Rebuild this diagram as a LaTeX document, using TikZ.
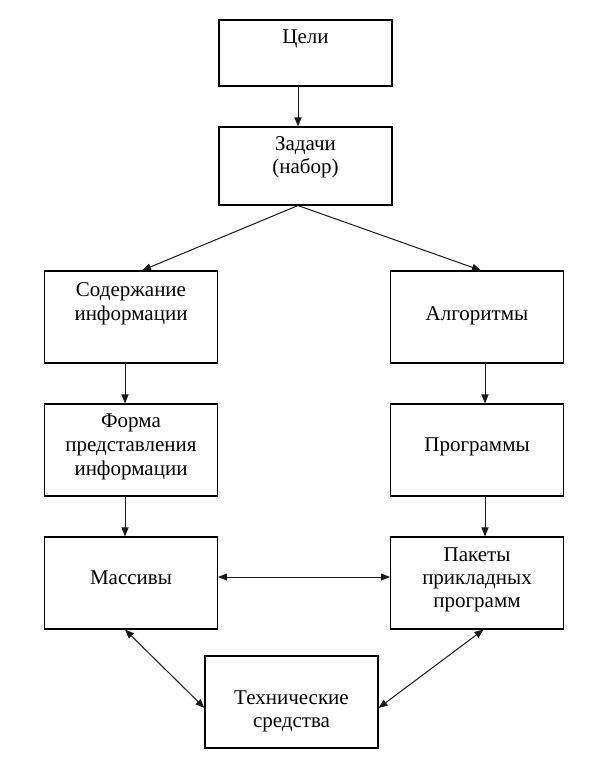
\documentclass[tikz,border=0pt]{standalone}
\usepackage{fontspec}
\setmainfont{Liberation Serif}
\usetikzlibrary{arrows.meta}
\begin{document}
\begin{tikzpicture}[x=1pt,y=-1pt,
  box/.style={draw=black,line width=1.1pt,minimum width=173pt,minimum height=92pt,inner sep=0pt,fill=white},
  lbl/.style={font=\fontsize{21}{24}\selectfont,inner sep=0pt,anchor=base},
  arr/.style={line width=1pt,draw=black!90,-{Triangle[length=9pt,width=7pt]}},
  barr/.style={line width=1pt,draw=black!90,{Triangle[length=9pt,width=7pt]}-{Triangle[length=9pt,width=7pt]}}]
\useasboundingbox (0,0) rectangle (594,762);
\fill[white] (0,0) rectangle (594,762);
% boxes
\node[box,minimum height=66pt] (c) at (305.5,53) {};
\node[box,minimum height=78pt] (z) at (305.5,166) {};
\node[box] (s) at (131,317) {};
\node[box] (a) at (477,317) {};
\node[box] (f) at (131,450) {};
\node[box] (p) at (477,450) {};
\node[box] (m) at (131,583) {};
\node[box] (k) at (477,583) {};
\node[box] (t) at (291.5,702) {};
% labels (one node per printed line, placed on its baseline)
\node[lbl] (tc) at ([yshift=-24pt]c.north) {Цели};
\node[lbl] (tz1) at ([yshift=-24pt]z.north) {Задачи};
\node[lbl] (tz2) at ([yshift=-47pt]z.north) {(набор)};
\node[lbl] (ts1) at ([yshift=-26pt]s.north) {Содержание};
\node[lbl] (ts2) at ([yshift=-50pt]s.north) {информации};
\node[lbl] (ta) at ([yshift=-50pt]a.north) {Алгоритмы};
\node[lbl] (tf1) at ([yshift=-24pt]f.north) {Форма};
\node[lbl] (tf2) at ([yshift=-48pt]f.north) {представления};
\node[lbl] (tf3) at ([yshift=-72pt]f.north) {информации};
\node[lbl] (tp) at ([yshift=-48pt]p.north) {Программы};
\node[lbl] (tm) at ([yshift=-48pt]m.north) {Массивы};
\node[lbl] (tk1) at ([yshift=-25pt]k.north) {Пакеты};
\node[lbl] (tk2) at ([yshift=-48pt]k.north) {прикладных};
\node[lbl] (tk3) at ([yshift=-71pt]k.north) {программ};
\node[lbl] (tt1) at ([yshift=-49pt]t.north) {Технические};
\node[lbl] (tt2) at ([yshift=-72pt]t.north) {средства};
% connectors
\draw[arr] ([xshift=-7.5pt]c.south) -- ([xshift=-7.5pt]z.north);
\draw[arr] ([xshift=-7.5pt]z.south) -- ([xshift=11pt]s.north);
\draw[arr] ([xshift=-7.5pt]z.south) -- ([xshift=4pt]a.north);
\draw[arr] ([xshift=-6pt]s.south) -- ([xshift=-6pt]f.north);
\draw[arr] ([xshift=8pt]a.south) -- ([xshift=8pt]p.north);
\draw[arr] ([xshift=-6pt]f.south) -- ([xshift=-6pt]m.north);
\draw[arr] ([xshift=8pt]p.south) -- ([xshift=8pt]k.north);
\draw[barr] ([yshift=6pt]m.east) -- ([yshift=6pt]k.west);
\draw[barr] ([xshift=-6pt]m.south) -- ([yshift=-6pt]t.west);
\draw[barr] ([xshift=6.5pt]k.south) -- ([yshift=-6pt]t.east);
\end{tikzpicture}
\end{document}
